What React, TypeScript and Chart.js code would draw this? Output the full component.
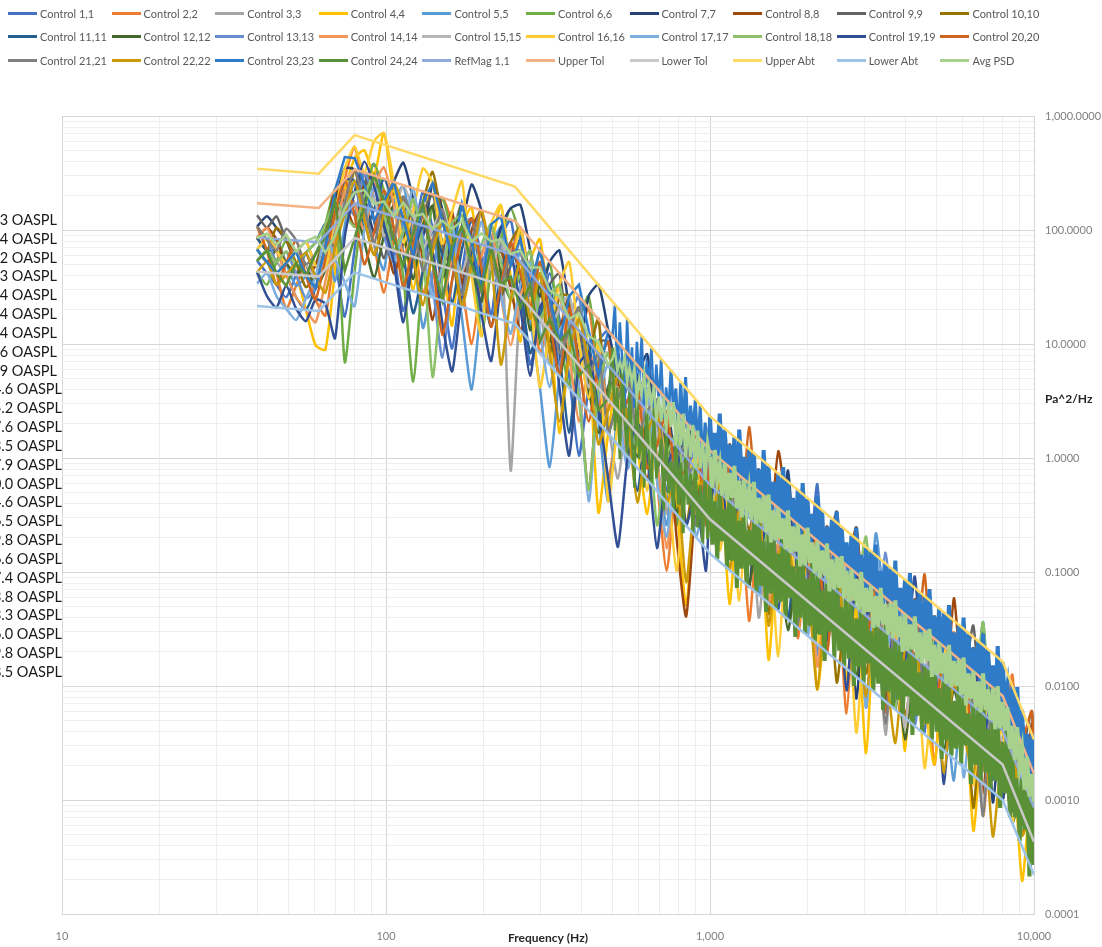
import React, { useEffect, useRef } from "react";
import { Chart, registerables } from "chart.js";

Chart.register(...registerables);

// ---------- frequency grids (Hz) ----------
const FREQ_LO = [
  40, 42.9, 45.9, 49.2, 52.8, 56.6, 60.6, 65, 69.6, 74.6, 80, 85.7, 91.9, 98.5, 105.6, 113.1, 121.3, 130, 139.3, 149.3,
  160, 171.5, 183.8, 197, 211.1, 226.3, 242.5, 260, 278.6, 298.6, 320, 343, 367.6, 394, 422.2, 452.5, 485, 519.8,
  557.2, 597.1, 640, 686, 735, 788, 844, 905, 970,
];
// finer grid 500 Hz - 1 kHz (used by the dense channels)
const FREQ_MID = [
  500, 508.7, 517.6, 526.7, 535.9, 545.3, 554.8, 564.5, 574.4, 584.4, 594.6, 605.0, 615.6, 626.4, 637.3, 648.4,
  659.7, 671.3, 683.0, 694.9, 707.1, 719.5, 732.1, 744.9, 757.9, 771.1, 784.6, 798.3, 812.3, 826.5, 840.9, 855.6,
  870.6, 885.8, 901.3, 917.0, 933.1, 949.4, 966.0, 982.9,
];
const FREQ_HF = [
  1000, 1017, 1035, 1053, 1072, 1091, 1110, 1129, 1149, 1169, 1189, 1210, 1231, 1253, 1274, 1297, 1320, 1343, 1366, 1390,
  1414, 1439, 1464, 1490, 1516, 1542, 1569, 1597, 1625, 1653, 1682, 1711, 1741, 1772, 1803, 1834, 1866, 1899, 1932, 1966,
  2000, 2035, 2071, 2107, 2144, 2181, 2219, 2258, 2297, 2337, 2378, 2420, 2462, 2505, 2549, 2594, 2639, 2685, 2732, 2780,
  2828, 2878, 2928, 2979, 3031, 3084, 3138, 3193, 3249, 3306, 3364, 3422, 3482, 3543, 3605, 3668, 3732, 3797, 3864, 3931,
  4000, 4070, 4141, 4214, 4287, 4362, 4438, 4516, 4595, 4675, 4757, 4840, 4925, 5011, 5099, 5188, 5278, 5371, 5465, 5560,
  5657, 5756, 5857, 5959, 6063, 6169, 6277, 6387, 6498, 6612, 6728, 6845, 6964, 7086, 7210, 7336, 7464, 7595, 7727, 7862,
  8000, 8140, 8282, 8427, 8574, 8724, 8877, 9032, 9190, 9351, 9514, 9681, 9849, 10000,
];

// reference level (dB re 1 Pa^2/Hz) read at the grid frequencies
const REF_LO_DB = [
  19.3, 19.2, 19.2, 19.1, 19.1, 19.0, 18.9, 19.5, 20.5, 21.4, 22.3, 22.0, 21.8, 21.5, 21.2, 20.9, 20.7, 20.4, 20.1, 19.8,
  19.6, 19.3, 19.0, 18.7, 18.5, 18.2, 17.9, 17.2, 16.2, 15.2, 14.2, 13.2, 12.2, 11.2, 10.2, 9.2, 8.2, 7.2, 6.1, 5.1,
  4.1, 3.1, 2.1, 1.1, 0.1, -0.9, -1.9,
];
const REF_MID_DB = [
  7.7, 7.4, 7.2, 6.9, 6.7, 6.4, 6.2, 5.9, 5.7, 5.4, 5.2, 4.9, 4.7, 4.4, 4.2, 3.9, 3.7, 3.4, 3.2, 2.9,
  2.7, 2.4, 2.2, 1.9, 1.7, 1.4, 1.1, 0.9, 0.6, 0.4, 0.1, -0.1, -0.4, -0.6, -0.9, -1.1, -1.4, -1.6, -1.9, -2.1,
];
const REF_HF_DB = [
  -2.4, -2.6, -2.8, -2.9, -3.1, -3.3, -3.5, -3.7, -3.8, -4.0, -4.2, -4.4, -4.5, -4.7, -4.9, -5.1, -5.3, -5.4, -5.6, -5.8,
  -6.0, -6.2, -6.3, -6.5, -6.7, -6.9, -7.1, -7.2, -7.4, -7.6, -7.8, -8.0, -8.1, -8.3, -8.5, -8.7, -8.8, -9.0, -9.2, -9.4,
  -9.6, -9.7, -9.9, -10.1, -10.3, -10.5, -10.6, -10.8, -11.0, -11.2, -11.4, -11.5, -11.7, -11.9, -12.1, -12.3, -12.4,
  -12.6, -12.8, -13.0, -13.1, -13.3, -13.5, -13.7, -13.9, -14.0, -14.2, -14.4, -14.6, -14.8, -14.9, -15.1, -15.3, -15.5,
  -15.7, -15.8, -16.0, -16.2, -16.4, -16.5, -16.7, -16.9, -17.1, -17.3, -17.4, -17.6, -17.8, -18.0, -18.2, -18.3, -18.5,
  -18.7, -18.9, -19.0, -19.2, -19.4, -19.6, -19.8, -19.9, -20.1, -20.3, -20.5, -20.7, -20.8, -21.0, -21.2, -21.4, -21.6,
  -21.7, -21.9, -22.1, -22.3, -22.4, -22.6, -22.8, -23.0, -23.2, -23.3, -23.5, -23.7, -23.9, -24.4, -24.9, -25.5, -26.0,
  -26.5, -27.1, -27.6, -28.1, -28.6, -29.2, -29.7, -30.2, -30.7,
];

// ---------- profile lines (Pa^2/Hz at breakpoints) ----------
const PROFILE_FREQ = [40, 62, 80, 250, 1000, 8000, 10000];
const REF_MAG = [86, 78, 170, 60, 0.58, 0.0041, 0.00086];
const UPPER_TOL = [172, 156, 340, 120, 1.16, 0.0082, 0.0017];
const LOWER_TOL = [43, 39, 85, 30, 0.29, 0.00205, 0.00043];
const UPPER_ABT = [344, 312, 680, 240, 2.32, 0.0164, 0.0034];
const LOWER_ABT = [21.5, 19.5, 42.5, 15, 0.145, 0.001, 0.00022];

// ---------- control channels: deviation from reference (dB) ----------
// 47 values on FREQ_LO, then 35 values on every fourth FREQ_HF point (+10 kHz)
const C01 = [-2,-3,-4,-5,-3,-1,0, 1,-3,-9, -4,2,4,1,-3,-8,-2,3,0,-5,-10,-3,2,-1,-6,1,3,
  -2,-8,-3,2,-1,-5,-11,-4,1,3,-2,-7,-1,4,0,-5,-2,3,-3,1,
  3,-4,5,-2,4,-6,2,5,-3,4,-1,8,-5,3,0,5,-8,4,-2,5,-3,3,-6,5,1,-4,4,-2,8,-5,3,-1,5,-3,2];
const C02 = [0,-1,-3,-6,-4,-2,-5, -7,-2,3, 5,1,-3,-7,-2,2,-1,-6,-2,3,1,-4,-9,-3,2,-2,0,
  3,-1,-6,-2,2,-4,-1,3,-3,-10,-4,1,-2,2,-5,-12,-3,1,-1,3,
  -2,4,-5,2,-9,1,5,-3,3,-7,2,4,-4,1,-10,3,5,-2,2,-6,4,-1,3,-8,2,5,-3,1,-5,4,-2,7,-4,3,1];
const C03 = [-1,-2,-2,-3,-2,-4,-3, -2,1,2, 3,0,-2,1,3,-1,-4,0,2,-3,0,3,-2,-6,-1,2,-19,
  -3,1,-2,-6,0,2,-4,-1,3,-5,-9,-2,1,-3,2,-7,-1,1,-4,0,
  2,-5,3,-1,4,-8,1,3,-3,5,-2,1,-6,3,-1,4,-4,2,-9,3,0,5,-3,2,-5,4,-1,3,-7,2,0,4,-4,3,-2];
const C04 = [1,0,-2,-1,-3,-6,-9, -10,-4,2, 4,5,3,7,2,-1,-6,0,4,-2,-8,1,3,-3,0,4,-2,
  -7,1,4,-2,-11,-3,2,-1,-14,-6,0,3,-4,-9,-1,2,-5,-13,-2,1,
  -3,2,-9,1,-4,3,-11,0,2,-6,1,-10,-2,3,-7,0,-12,2,-4,1,-9,3,-3,-8,1,-5,2,-11,-1,3,-6,0,-9,2,-4];
const C05 = [-2,-1,0,-2,-4,-3,-1, 0,-5,-1, 2,0,-3,-5,1,3,-2,-9,-4,1,-1,-7,-13,-5,0,2,-3,
  1,-4,-9,-15,-6,0,3,-2,-6,-12,-3,1,-1,4,-3,-8,0,2,-4,3,
  4,1,-3,5,2,-6,3,0,5,-2,4,-7,2,5,-1,3,-4,8,1,-5,4,2,-3,5,0,-8,3,5,-2,4,-6,2,5,-1,3];
const C06 = [-3,-4,-2,0,-1,-3,-2, 1,3,-13, -6,1,4,2,-1,-5,-14,-4,2,3,0,-3,-1,-8,-2,1,4,
  2,-3,-1,3,-2,-6,1,4,-1,-3,2,-5,0,3,-2,1,-7,2,-1,3,
  1,-3,3,-1,4,-5,2,0,3,-2,5,-4,1,3,-1,7,-3,2,-6,4,0,3,-2,1,-5,3,-1,4,-3,2,-4,3,1,-2,2];
const C07 = [1,2,1,0,-2,-1,-3, -1,2,4, 3,1,-2,0,3,5,2,-1,4,2,-3,1,5,3,-1,2,4,
  5,2,-1,3,5,1,-2,4,6,3,0,-4,2,5,-1,3,-2,1,4,-3,
  2,-4,4,0,-6,3,1,-2,7,-3,2,4,-5,1,3,-8,2,0,5,-3,1,-6,4,2,-2,3,-4,1,7,-7,2,-1,4,-3,1];
const C08 = [0,1,0,-2,-1,-3,-2, 0,3,1, -2,2,3,-1,-5,-2,1,-3,-8,-2,2,-4,1,3,-2,0,-3,
  -6,-2,1,-4,-2,2,-5,-13,-3,1,-1,3,-2,-6,0,2,-8,-14,-3,1,
  3,-2,5,1,-4,4,-1,8,2,-5,3,0,5,-3,2,7,-1,3,-6,4,1,5,-2,3,-4,8,0,2,-7,4,1,5,-3,7,2];
const C09 = [2,1,2,0,-1,0,-2, -3,0,2, 1,3,-1,-4,0,2,-2,1,3,-1,-3,0,2,-2,1,-4,-1,
  2,0,-3,1,3,-2,0,-5,1,2,-3,0,-1,2,-4,1,3,-2,0,2,
  -1,3,-3,2,5,-4,1,3,-2,4,0,-5,2,7,-1,3,-3,1,4,-6,2,0,5,-2,3,-4,1,7,-2,3,0,-5,2,8,1];
const C10 = [0,-1,1,0,-2,-4,-3, -1,2,0, 3,-1,-4,-1,2,0,-3,2,5,1,-2,-6,-1,2,0,-4,1,
  3,-2,0,-5,1,2,-3,-1,3,-6,-2,1,-4,0,2,-3,1,-6,0,-2,
  -2,1,-5,2,-1,3,-7,0,2,-4,1,-2,3,-8,0,2,-5,1,-3,2,-6,0,3,-4,1,-2,2,-9,1,-3,2,0,-5,1,-2];
const C11 = [0,-1,-1,-3,-5,-6,-4, -2,1,3, 2,-2,0,3,1,-3,-8,-4,0,-2,-6,-1,2,-3,-7,-2,1,
  -2,-7,-3,1,-4,-10,-2,0,-6,-2,2,-3,-8,-1,1,-4,-2,2,-5,0,
  3,0,4,-3,2,5,-1,3,-6,2,4,0,-4,3,1,5,-2,4,-7,2,0,3,-3,5,1,-5,3,2,-2,4,-6,2,5,0,2];
const C12 = [-1,-2,-1,-2,-3,-2,-4, -3,-1,2, 0,-3,-6,-2,1,-1,-5,0,2,-4,-1,3,-2,-5,1,-2,-4,
  -1,-5,0,-3,-6,-1,2,-4,-7,-2,0,-3,-5,-1,-4,0,-6,-2,-3,-1,
  -3,-1,-5,-2,-6,0,-4,-2,-7,-1,-3,-5,0,-4,-2,-6,-1,-3,-5,-2,-8,-1,-4,-2,-6,0,-3,-5,-1,-4,-2,-6,-1,-3,-4];
const C13 = [-1,0,-2,-1,-3,-5,-4, -2,0,1, -1,3,1,-2,-4,0,2,-1,-5,-11,-4,1,2,-2,1,-3,0,
  1,-3,2,-1,-5,0,3,-3,-1,2,-4,-1,3,-2,0,-6,1,-2,2,-1,
  4,-1,2,5,-3,3,1,-5,4,2,-2,5,0,3,-4,4,1,-2,7,-1,3,-6,2,4,0,-3,5,1,3,-4,2,5,-2,3,0];
const C14 = [0,1,-1,-3,-5,-6,-7, -4,-1,2, 0,-2,2,4,1,-3,-1,2,-2,-6,-2,1,-3,-1,2,-4,-8,
  -3,0,-5,-2,1,-3,-8,-2,0,-4,-1,-6,-2,1,-3,-10,-2,0,-4,-1,
  -1,3,-4,1,-2,4,-6,0,3,-3,2,-8,1,-2,4,-5,0,3,-2,1,-7,2,-1,4,-4,1,-3,3,-9,0,2,-4,1,-2,3];
const C15 = [-2,-1,-3,-2,-1,-2,-3, -2,0,1, 2,-1,1,-2,0,3,1,-2,0,2,-1,-3,0,2,-2,1,-1,
  0,-2,1,-3,0,2,-1,-4,0,1,-2,-5,0,2,-1,-3,1,-2,0,-1,
  1,-2,3,0,-4,2,-1,3,-3,1,-6,2,0,-2,3,-5,1,2,-3,0,-7,2,1,-2,3,-4,0,2,-8,1,-1,3,-3,1,-2];
const C16 = [-1,0,-1,-2,-1,0,-2, -3,1,4, 5,3,6,7,3,-2,1,5,4,-1,2,5,-3,-8,2,4,-1,
  3,-2,-9,-3,2,5,-1,-5,1,-12,-4,2,-1,-7,1,-3,-11,-2,1,-3,
  2,-5,1,-8,3,-2,0,-10,2,-3,4,-6,1,-4,2,-11,0,3,-5,1,-3,2,-9,0,3,-4,1,-7,2,-2,0,-6,3,-3,1];
const C17 = [-4,-3,-5,-6,-7,-5,-3, 0,-3,-6, -9,-2,2,0,-4,-1,3,-2,-6,-3,1,-5,-2,2,-1,-4,-7,
  -2,1,-4,-8,-2,0,-5,-14,-4,0,-3,-7,-1,2,-5,-9,-2,0,-6,-1,
  2,-2,4,-5,1,3,-3,5,-1,2,-6,3,0,4,-4,2,-8,3,1,-2,5,-5,2,0,-3,4,-7,1,3,-2,4,-4,2,-1,3];
const C18 = [-2,-1,-2,-1,-2,-1,0, 1,2,0, -2,1,3,0,-3,-1,2,-2,-13,-4,1,2,-3,0,2,-1,-4,
  -1,2,-3,0,2,-2,-6,-13,-3,1,-2,2,-4,0,-9,-2,1,-3,0,2,
  0,-3,2,-1,3,-4,1,-2,4,0,-5,2,-1,3,-3,1,7,-2,0,-6,2,1,-3,3,-1,-5,2,0,8,-2,1,-4,2,-1,1];
const C19 = [-3,-5,-6,-4,-6,-7,-5, -6,-10,-2, 1,4,2,-1,-4,-9,-3,0,-2,-8,-12,-5,-1,-6,-10,-3,0,
  -4,-9,-2,0,-7,-12,-3,-1,-5,-10,-15,-6,-2,-4,-11,-3,0,-6,-2,-8,
  -2,3,-4,1,5,-3,2,-6,4,0,-2,5,-4,2,-8,3,0,4,-5,2,-1,7,-3,1,-9,3,0,5,-2,2,-6,4,-1,3,0];
const C20 = [1,-1,-4,-2,0,-3,-5, -2,1,3, -1,-5,-2,2,-1,-6,-2,1,-3,-9,-4,0,2,-2,-7,-3,1,
  -1,-3,2,-2,-6,1,-3,-7,-1,2,-4,-1,1,-5,-2,2,-3,-1,3,-4,
  4,-1,3,-3,8,0,2,-4,5,1,-2,4,-6,3,0,5,-2,3,-7,2,4,-1,8,-3,2,0,5,-5,3,1,4,-2,3,8,2];
const C21 = [1,0,-1,1,0,-2,-1, 0,-2,1, 3,0,-3,1,-2,2,0,-4,-1,2,-2,-5,0,3,-1,-3,0,
  1,-2,3,0,-4,-1,2,-3,0,-6,-2,1,-3,0,2,-4,-1,1,-5,0,
  3,-1,4,-4,2,0,5,-3,1,-6,3,0,4,-2,2,-5,3,1,-8,2,0,4,-3,5,1,-4,2,0,-9,3,1,-2,4,-3,2];
const C22 = [-3,-2,-4,-3,-2,-1,-3, -5,-2,0, 2,-1,-4,0,3,1,-3,-7,-2,1,-1,-6,-2,3,-1,-10,-4,
  0,-4,1,-5,-10,-3,1,-2,-8,-4,0,-3,-9,-2,1,-6,-3,-11,-2,0,
  -4,1,-6,0,-3,2,-8,-1,1,-5,-2,-10,0,2,-4,-1,-7,1,-3,-9,0,2,-5,-1,-8,1,-3,-6,0,-10,-2,1,-5,-1,-3];
// dense channels: 37 values on FREQ_LO (to 485 Hz), 40 on FREQ_MID, 134 on FREQ_HF
const C23 = [-1,-2,-3,-2,-1,-3,-4, -1,3,5, 4,2,-1,1,3,0,-3,2,4,1,-2,3,0,-4,2,3,-1,
  2,-1,3,0,-3,2,4,1,-2,3,
  3,6,0,5,2,-2,6,1,4,-1,5,2,6,0,4,3,6,1,5,2,6,1,4,2,6,3,5,1,6,2,7,2,5,3,6,2,6,1,5,3,
  6,2,5,3,7,2,6,3,5,2,6,1,7,3,5,2,6,3,6,2,
  5,2,7,3,6,2,5,3,6,1,7,2,6,3,5,2,6,2,7,3,
  6,2,5,3,7,2,6,1,5,3,6,2,7,2,6,3,5,2,6,2,
  7,3,5,2,6,2,6,3,7,1,5,2,6,3,6,2,7,2,5,3,
  6,2,7,2,5,3,6,1,6,2,7,3,5,2,6,2,6,3,7,2,
  5,2,6,3,7,2,6,1,5,3,6,2,7,2,6,3,5,2,7,2,
  6,3,5,2,6,2,7,3,6,1,5,2,6,3];
const C24 = [-2,-1,-3,-4,-2,-3,-1, 0,2,-5, -3,0,3,1,-2,-4,-1,2,-3,-6,-1,1,-2,-4,0,-3,-2,
  -4,-1,-5,-2,-3,-1,-4,-2,-5,-3,
  2,-5,-1,-7,1,-3,-6,0,-4,-8,1,-5,-2,-7,0,-4,-6,1,-5,-3,-1,-7,0,-5,-2,-6,1,-5,-1,-7,0,-4,-1,-6,0,-5,-1,-6,1,-5,
  0,-5,-1,-6,0,-4,-1,-6,1,-5,0,-7,-1,-5,0,-6,-1,-4,0,-6,
  1,-5,-1,-7,0,-5,0,-6,-1,-5,1,-6,0,-4,-1,-7,0,-5,0,-6,
  -1,-5,1,-6,0,-5,-1,-7,0,-4,0,-6,1,-5,-1,-6,0,-5,0,-7,
  -1,-5,1,-6,0,-4,-1,-6,0,-5,0,-7,1,-5,-1,-6,0,-5,0,-6,
  -1,-4,1,-7,0,-5,-1,-6,0,-5,0,-6,1,-5,-1,-7,0,-5,0,-6,
  -1,-5,1,-6,0,-4,-1,-7,0,-5,0,-6,1,-5,-1,-6,0,-5,0,-7,
  -1,-5,1,-6,0,-5,-1,-6,0,-4,0,-7,1,-5];
const AVG_PSD = [0,0.5,-0.5,0.5,-1,0,0.5, -1.5,-1,0.5, 1,1.5,0.5,1,0,1.5,0.5,1,0,1,0.5,1.5,0,1,0.5,1,0,
  1,0.5,1.5,0.5,1,0,1.5,0.5,1,0,
  1,2,0.5,1.5,1,2.5,0.5,2,1,2.5,0,2,1,3,0.5,2.5,1,3,0,2.5,0.5,3,0,3,1,3.5,0,3,0.5,3.5,0,3,0.5,3.5,0,3.5,0.5,3,0,3.5,
  2.5,0,3.5,1,2.5,0,3,0,2.5,0.5,3.5,0,2.5,-0.5,3,0.5,2.5,0,3.5,0,
  2.5,0.5,3,0,3.5,-0.5,2.5,0,3,0.5,2.5,0,3.5,0,2.5,0.5,3,-0.5,2.5,0,
  3.5,0.5,2.5,0,3,0,2.5,0.5,3.5,-0.5,2.5,0,3,0.5,3.5,0,2.5,0,3,0.5,
  2.5,0,3.5,0,2.5,0.5,3,-0.5,2.5,0,3.5,0.5,2.5,0,3,0,3.5,0.5,2.5,-0.5,
  3,0,2.5,0.5,3.5,0,2.5,0,3,0.5,3.5,-0.5,2.5,0,3,0.5,2.5,0,3.5,0,
  2.5,0.5,3,0,3.5,-0.5,2.5,0.5,3,0,2.5,0,3.5,0.5,2.5,0,3,-0.5,3.5,0,
  2.5,0.5,3,0,2.5,0,3.5,0.5,2.5,-0.5,3,0,2.5,0.5];

const CONTROL_DEVS = [C01, C02, C03, C04, C05, C06, C07, C08, C09, C10, C11, C12,
  C13, C14, C15, C16, C17, C18, C19, C20, C21, C22, C23, C24];
const CONTROL_NAMES = CONTROL_DEVS.map((_, i) => `Control ${i + 1},${i + 1}`);
const CONTROL_COLORS = [
  "#4472C4", "#ED7D31", "#A5A5A5", "#FFC000", "#5B9BD5", "#70AD47",
  "#264478", "#9E480E", "#636363", "#997300", "#255E91", "#43682B",
  "#698ED0", "#F1975A", "#B7B7B7", "#FFCD33", "#7CAFDD", "#8CC168",
  "#314F95", "#D0661E", "#7F7F7F", "#CC9A06", "#2F7BC8", "#5A9136",
];
const FINE_SERIES = [22, 23];

const PROFILE_SERIES = [
  { name: "RefMag 1,1", values: REF_MAG, color: "#8FAADC" },
  { name: "Upper Tol", values: UPPER_TOL, color: "#F4B183" },
  { name: "Lower Tol", values: LOWER_TOL, color: "#C9C9C9" },
  { name: "Upper Abt", values: UPPER_ABT, color: "#FFD966" },
  { name: "Lower Abt", values: LOWER_ABT, color: "#9DC3E6" },
];
const AVG_COLOR = "#A9D18E";

const OASPL_LABELS = [
  "3 OASPL", "4 OASPL", "2 OASPL", "3 OASPL", "4 OASPL", "4 OASPL", "4 OASPL", "6 OASPL", "9 OASPL",
  "4.6 OASPL", "5.2 OASPL", "7.6 OASPL", "3.5 OASPL", "7.9 OASPL", "0.0 OASPL", "4.6 OASPL", "6.5 OASPL",
  "9.8 OASPL", "6.6 OASPL", "7.4 OASPL", "3.8 OASPL", "3.3 OASPL", "6.0 OASPL", "9.8 OASPL", "8.5 OASPL",
];

const X_DECADE_LABELS: Record<string, string> = { "10": "10", "100": "100", "1000": "1,000", "10000": "10,000" };

// ---------- helpers ----------
const dbToPa = (db: number) => Math.pow(10, db / 10);
const HF_COARSE_IDX = FREQ_HF.map((_, i) => i).filter((i) => i % 4 === 0 || i === FREQ_HF.length - 1);
const FINE_LO_COUNT = 37;

function buildCoarse(dev: number[]) {
  const pts: { x: number; y: number }[] = [];
  FREQ_LO.forEach((f, i) => pts.push({ x: f, y: dbToPa(REF_LO_DB[i] + (dev[i] ?? 0)) }));
  HF_COARSE_IDX.forEach((idx, j) => {
    pts.push({ x: FREQ_HF[idx], y: dbToPa(REF_HF_DB[idx] + (dev[FREQ_LO.length + j] ?? 0)) });
  });
  return pts;
}

function buildFine(dev: number[]) {
  const pts: { x: number; y: number }[] = [];
  for (let i = 0; i < FINE_LO_COUNT; i++) pts.push({ x: FREQ_LO[i], y: dbToPa(REF_LO_DB[i] + (dev[i] ?? 0)) });
  FREQ_MID.forEach((f, j) => pts.push({ x: f, y: dbToPa(REF_MID_DB[j] + (dev[FINE_LO_COUNT + j] ?? 0)) }));
  const off = FINE_LO_COUNT + FREQ_MID.length;
  FREQ_HF.forEach((f, j) => pts.push({ x: f, y: dbToPa(REF_HF_DB[j] + (dev[off + j] ?? 0)) }));
  return pts;
}

function decadeTicks(minExp: number, maxExp: number) {
  const out: { value: number }[] = [];
  for (let e = minExp; e < maxExp; e++) {
    for (let m = 1; m <= 9; m++) out.push({ value: Number((m * Math.pow(10, e)).toPrecision(6)) });
  }
  out.push({ value: Math.pow(10, maxExp) });
  return out;
}
const isDecade = (v: number) => Math.abs(Math.log10(v) - Math.round(Math.log10(v))) < 1e-6;

const LEGEND_ITEMS = [
  ...CONTROL_NAMES.map((n, i) => ({ name: n, color: CONTROL_COLORS[i] })),
  ...PROFILE_SERIES.map((p) => ({ name: p.name, color: p.color })),
  { name: "Avg PSD", color: AVG_COLOR },
];

// dense (high-resolution) segments are drawn slightly heavier so they read as solid bands
const fineSegment = {
  borderWidth: (ctx: any) => {
    const x = ctx.p0.parsed.x;
    return x >= 990 ? 4 : x >= 740 ? 3 : 2.5;
  },
};

export default function App() {
  const canvasRef = useRef<HTMLCanvasElement | null>(null);

  useEffect(() => {
    const canvas = canvasRef.current;
    if (!canvas) return;
    Chart.defaults.font.family = "Lato, 'Open Sans', sans-serif";

    const datasets: any[] = [];
    CONTROL_DEVS.forEach((dev, i) => {
      const fine = FINE_SERIES.includes(i);
      datasets.push({
        label: CONTROL_NAMES[i],
        data: fine ? buildFine(dev) : buildCoarse(dev),
        borderColor: CONTROL_COLORS[i],
        backgroundColor: CONTROL_COLORS[i],
        borderWidth: 2.5,
        tension: fine ? 0 : 0.2,
        pointRadius: 0,
        fill: false,
        ...(fine ? { segment: fineSegment } : {}),
      });
    });
    PROFILE_SERIES.forEach((p) => {
      datasets.push({
        label: p.name,
        data: PROFILE_FREQ.map((f, i) => ({ x: f, y: p.values[i] })),
        borderColor: p.color,
        backgroundColor: p.color,
        borderWidth: 2.5,
        tension: 0,
        pointRadius: 0,
        fill: false,
      });
    });
    datasets.push({
      label: "Avg PSD",
      data: buildFine(AVG_PSD),
      borderColor: AVG_COLOR,
      backgroundColor: AVG_COLOR,
      borderWidth: 2.5,
      tension: 0,
      pointRadius: 0,
      fill: false,
      segment: fineSegment,
    });
    datasets.forEach((d, i) => (d.order = datasets.length - 1 - i));

    const gridColor = (ctx: any) => (ctx.tick && isDecade(ctx.tick.value) ? "#d6d6d6" : "#eeeeee");

    const chart = new Chart(canvas, {
      type: "line",
      data: { datasets },
      options: {
        animation: false,
        responsive: false,
        events: [],
        layout: { padding: { left: 62, top: 116, right: 0, bottom: 0 } },
        plugins: { legend: { display: false }, tooltip: { enabled: false } },
        elements: { point: { radius: 0 } },
        scales: {
          x: {
            type: "logarithmic",
            position: "bottom",
            min: 10,
            max: 10000,
            afterBuildTicks: (scale: any) => {
              scale.ticks = decadeTicks(1, 4);
            },
            afterFit: (scale: any) => {
              scale.height = 33;
            },
            ticks: {
              autoSkip: false,
              maxRotation: 0,
              padding: 16,
              color: "#7f7f7f",
              font: { size: 11 },
              callback: (v: any) => X_DECADE_LABELS[String(Math.round(Number(v)))] ?? "",
            },
            grid: { color: gridColor, lineWidth: 1, drawTicks: false },
            border: { display: true, color: "#d6d6d6" },
            title: {
              display: true,
              text: "Frequency (Hz)",
              color: "#262626",
              font: { size: 12, weight: "bold" },
              padding: { top: 0, bottom: 2 },
            },
          },
          y: {
            type: "logarithmic",
            position: "right",
            min: 0.0001,
            max: 1000,
            afterBuildTicks: (scale: any) => {
              scale.ticks = decadeTicks(-4, 3);
            },
            afterFit: (scale: any) => {
              scale.width = 68;
            },
            ticks: {
              autoSkip: false,
              padding: 11,
              color: "#7f7f7f",
              font: { size: 11 },
              callback: (v: any) => {
                const n = Number(v);
                if (!isDecade(n)) return "";
                return n.toLocaleString("en-US", { minimumFractionDigits: 4, maximumFractionDigits: 4 });
              },
            },
            grid: { color: gridColor, lineWidth: 1, drawTicks: false },
            border: { display: true, color: "#d6d6d6" },
          },
        },
      } as any,
    });
    return () => chart.destroy();
  }, []);

  return (
    <div
      style={{
        position: "absolute",
        left: 0,
        top: 0,
        width: 1102,
        height: 947,
        overflow: "hidden",
        background: "#ffffff",
        fontFamily: "Lato, 'Open Sans', sans-serif",
      }}
    >
      <canvas
        ref={canvasRef}
        width={1102}
        height={947}
        style={{ position: "absolute", left: 0, top: 0, width: 1102, height: 947 }}
      />
      {LEGEND_ITEMS.map((it, k) => {
        const r = Math.floor(k / 10);
        const c = k % 10;
        return (
          <div
            key={it.name}
            style={{
              position: "absolute",
              left: 8 + c * 103.6,
              top: 13 + r * 23.7 - 8,
              height: 16,
              display: "flex",
              alignItems: "center",
              whiteSpace: "nowrap",
            }}
          >
            <span style={{ display: "inline-block", width: 29, height: 3, background: it.color, marginRight: 3 }} />
            <span style={{ fontSize: 11, color: "#595959" }}>{it.name}</span>
          </div>
        );
      })}
      {OASPL_LABELS.map((t, i) => (
        <div
          key={i}
          style={{
            position: "absolute",
            right: i < 9 ? 1102 - 57 : 1102 - 62,
            top: 220 + i * 18.83 - 9,
            height: 18,
            lineHeight: "18px",
            fontSize: 14.5,
            color: "#1a1a1a",
            whiteSpace: "nowrap",
            textAlign: "right",
          }}
        >
          {t}
        </div>
      ))}
      <div
        style={{
          position: "absolute",
          left: 1045,
          top: 391,
          height: 16,
          lineHeight: "16px",
          fontSize: 12,
          fontWeight: "bold",
          color: "#262626",
          whiteSpace: "nowrap",
        }}
      >
        Pa^2/Hz
      </div>
    </div>
  );
}
